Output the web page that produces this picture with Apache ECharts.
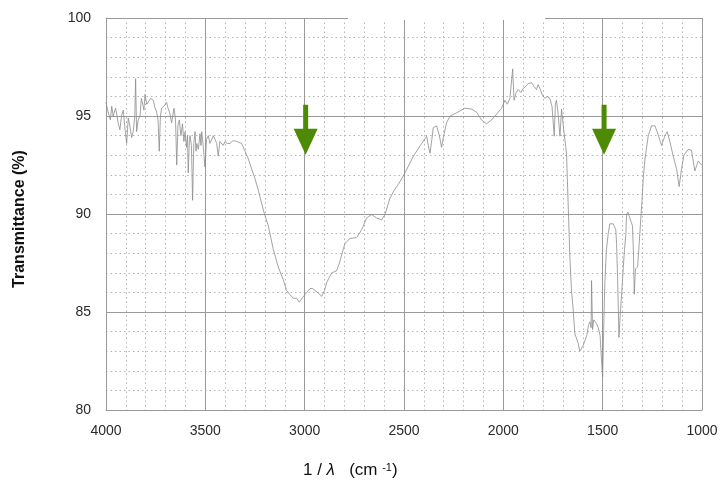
<!DOCTYPE html>
<html>
<head>
<meta charset="utf-8">
<script src="https://cdn.jsdelivr.net/npm/echarts@6/dist/echarts.min.js"></script>
<style>
html,body{margin:0;padding:0;background:#fff;}
#chart{width:725px;height:483px;}
</style>
</head>
<body>
<div id="chart"></div>
<script>
// Wavenumbers (cm^-1), descending
var wavenumbers = [4000,3992,3985,3978,3971,3964,3958,3952,3946,3938,3930,3922,3913,3905,3896,3888,3880,3871,3863,3855,3851,3846,3838,3829,3822,3815,3809,3804,3795,3787,3775,3762,3753,3745,3738,3732,3726,3720,3708,3695,3688,3680,3670,3664,3658,3650,3644,3638,3631,3623,3615,3608,3602,3595,3590,3586,3580,3577,3570,3564,3558,3552,3547,3543,3535,3527,3522,3518,3510,3502,3494,3485,3477,3468,3460,3451,3443,3435,3427,3418,3410,3401,3390,3376,3360,3342,3330,3317,3300,3283,3267,3250,3233,3208,3196,3183,3158,3133,3108,3091,3075,3057,3041,3027,3017,3007,2990,2973,2960,2948,2930,2914,2900,2889,2864,2839,2822,2806,2797,2772,2738,2713,2688,2663,2638,2612,2596,2571,2550,2529,2495,2453,2411,2386,2378,2369,2360,2353,2336,2322,2311,2300,2286,2269,2236,2193,2160,2135,2110,2085,2059,2034,2009,1992,1980,1967,1958,1953,1946,1935,1925,1912,1900,1888,1875,1858,1845,1833,1825,1816,1805,1791,1780,1766,1755,1744,1738,1733,1725,1715,1707,1695,1682,1674,1665,1657,1649,1640,1632,1623,1615,1606,1598,1589,1580,1572,1564,1558,1556,1551,1545,1539,1530,1522,1513,1505,1500,1495,1489,1481,1472,1464,1455,1447,1434,1430,1425,1418,1412,1404,1396,1390,1383,1380,1373,1367,1361,1350,1345,1341,1335,1324,1313,1302,1295,1287,1271,1254,1237,1221,1204,1187,1175,1162,1145,1128,1115,1103,1091,1069,1053,1036,1019,1002];
// Transmittance (%)
var transmittance = [95.7,95.3,95.4,94.8,95.5,95.0,94.9,95.4,95.1,94.6,94.3,95.0,95.3,94.4,93.6,94.9,94.5,93.9,94.2,95.0,96.9,94.2,94.8,95.0,95.9,95.6,95.3,96.1,95.6,95.5,95.9,95.8,95.4,95.2,94.8,93.2,95.0,95.4,95.5,95.7,95.4,95.2,94.65,95.0,95.4,94.8,92.5,94.5,94.8,94.0,94.6,93.7,94.2,93.4,94.0,92.1,93.8,94.0,93.5,90.7,93.6,94.2,93.2,93.6,93.3,94.1,93.5,94.2,93.4,92.4,93.8,94.0,93.6,93.5,94.0,93.8,93.6,92.95,93.7,93.8,93.5,93.7,93.6,93.6,93.75,93.7,93.65,93.6,93.2,92.8,92.3,91.8,91.2,90.2,89.8,89.4,88.2,87.3,86.65,86.1,85.9,85.7,85.7,85.5,85.65,85.7,86.0,86.2,86.2,86.1,85.95,85.8,86.1,86.5,87.0,87.1,87.6,88.2,88.5,88.75,88.8,89.2,89.8,89.97,89.8,89.7,89.97,90.8,91.2,91.5,92.1,92.95,93.6,93.97,93.5,93.1,93.8,94.4,94.5,94.0,93.4,94.0,94.65,94.99,95.16,95.4,95.35,95.2,94.8,94.6,94.8,95.1,95.4,95.8,95.6,95.9,96.0,97.4,95.8,96.2,96.35,96.2,96.4,96.5,96.65,96.7,96.5,96.35,96.6,96.4,96.1,95.9,96.0,95.9,95.5,93.97,95.6,95.8,95.2,93.97,95.35,94.2,93.1,90.6,87.8,86.1,85.2,83.9,83.8,83.4,83.0,83.0,83.3,83.2,83.8,84.3,84.5,84.2,86.6,84.1,84.6,84.5,84.4,84.2,83.8,82.4,81.7,84.1,86.5,88.2,89.0,89.5,89.4,89.5,89.2,88.5,86.8,83.7,84.8,86.0,87.3,88.2,89.0,89.97,90.1,89.9,90.0,89.4,88.0,85.9,87.2,87.3,89.0,90.7,91.9,92.8,93.97,94.5,94.5,94.06,93.5,93.97,94.2,93.7,92.95,92.3,91.4,92.3,93.0,93.3,93.25,92.2,92.7,92.5];
// Arrow annotations: wavenumber and transmittance at arrow centre
var arrowWavenumbers = [2995, 1493];
var arrowLevels = [94.3, 94.3];
// Axis ticks
var xTicks = [4000, 3500, 3000, 2500, 2000, 1500, 1000];
var yTicks = [80, 85, 90, 95, 100];

var font = "'Liberation Sans', Arial, Helvetica, sans-serif";
var data = wavenumbers.map(function (w, i) { return [w, transmittance[i]]; });
var arrows = arrowWavenumbers.map(function (w, i) { return { coord: [w, arrowLevels[i]] }; });

var chart = echarts.init(document.getElementById('chart'), null, { renderer: 'canvas' });
chart.setOption({
  animation: false,
  backgroundColor: '#ffffff',
  grid: { left: 106, top: 18, width: 596, height: 392, containLabel: false },
  xAxis: {
    type: 'value', inverse: true,
    min: xTicks[xTicks.length - 1], max: xTicks[0], interval: 500,
    axisLine: { show: true, lineStyle: { color: '#9a9a9a', width: 1 } },
    axisTick: { show: false },
    minorTick: { show: false, splitNumber: 5 },
    axisLabel: { margin: 14, fontSize: 14, color: '#2a2a2a', fontFamily: font,
      formatter: function (v) { return String(v); } },
    splitLine: { show: true, lineStyle: { color: '#9a9a9a', width: 1 } },
    minorSplitLine: { show: true, lineStyle: { color: '#b5b5b5', width: 1, type: [1.5, 3] } }
  },
  yAxis: {
    type: 'value',
    min: yTicks[0], max: yTicks[yTicks.length - 1], interval: 5,
    axisLine: { show: true, lineStyle: { color: '#9a9a9a', width: 1 } },
    axisTick: { show: false },
    minorTick: { show: false, splitNumber: 5 },
    axisLabel: { margin: 15, fontSize: 14, color: '#2a2a2a', fontFamily: font,
      formatter: function (v) { return String(v); } },
    splitLine: { show: true, lineStyle: { color: '#9a9a9a', width: 1 } },
    minorSplitLine: { show: true, lineStyle: { color: '#b5b5b5', width: 1, type: [1.5, 3] } }
  },
  series: [{
    type: 'line',
    data: data,
    showSymbol: false,
    symbol: 'none',
    smooth: false,
    lineStyle: { color: '#8c8c8c', width: 0.8 },
    markPoint: {
      symbol: 'path://M9.5,0 L14.5,0 L14.5,24 L24,24 L12,50 L0,24 L9.5,24 Z',
      symbolSize: [24, 50],
      label: { show: false },
      itemStyle: { color: '#4e8b04' },
      data: arrows,
      silent: true
    }
  }],
  graphic: [
    { type: 'rect', shape: { x: 348, y: 15, width: 197, height: 5 }, style: { fill: '#ffffff' }, z: 100 },
    {
      type: 'text', rotation: Math.PI / 2,
      x: 20, y: 219,
      style: {
        text: 'Transmittance (%)', font: 'bold 16px ' + font, fill: '#111',
        align: 'center', verticalAlign: 'middle'
      }
    },
    {
      type: 'text', x: 303, y: 462,
      style: {
        text: '1 / {i|λ}   (cm {s|-1})',
        font: '17px ' + font, fill: '#111',
        rich: {
          i: { fontStyle: 'italic', fontSize: 17, fontFamily: font, fill: '#111' },
          s: { fontSize: 11, fontFamily: font, verticalAlign: 'top', fill: '#111' }
        }
      }
    }
  ]
});
</script>
</body>
</html>
